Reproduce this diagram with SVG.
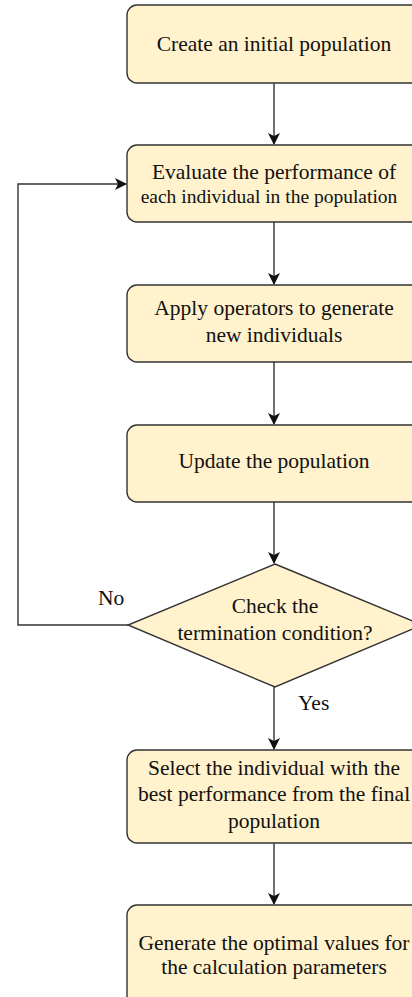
<svg xmlns="http://www.w3.org/2000/svg" width="412" height="997" viewBox="0 0 412 997">
<style>
.box{fill:#fff2cc;stroke:#333;stroke-width:1.4}
.t{font-family:"Liberation Serif","Times New Roman",serif;font-size:21.5px;fill:#111;text-anchor:middle}
.l{font-family:"Liberation Serif","Times New Roman",serif;font-size:21.5px;fill:#111}
.c{fill:none;stroke:#333;stroke-width:1.4}
</style>
<defs>
<marker id="ah" viewBox="0 0 12 12" refX="11" refY="6" markerWidth="12" markerHeight="12" markerUnits="userSpaceOnUse" orient="auto">
<path d="M0,0 L12,6 L0,12 L3,6 Z" fill="#111"/>
</marker>
</defs>
<rect width="412" height="997" fill="#fff"/>
<g id="connectors">
<path class="c" d="M274,83 V144" marker-end="url(#ah)"/>
<path class="c" d="M274,222 V284" marker-end="url(#ah)"/>
<path class="c" d="M274,362 V424" marker-end="url(#ah)"/>
<path class="c" d="M274,502 V563" marker-end="url(#ah)"/>
<path class="c" d="M128,625 H18 V184 H126" marker-end="url(#ah)"/>
<path class="c" d="M274,687 V749" marker-end="url(#ah)"/>
<path class="c" d="M274,843 V904" marker-end="url(#ah)"/>
<text class="l" x="98" y="605">No</text>
<text class="l" x="298" y="710">Yes</text>
</g>
<g id="n1">
<rect class="box" x="127" y="5" width="294" height="78" rx="10"/>
<text class="t" x="274" y="51">Create an initial population</text>
</g>
<g id="n2">
<rect class="box" x="127" y="145" width="294" height="77" rx="10"/>
<text class="t" x="274" y="179">Evaluate the performance of</text>
<text class="t" x="269" y="203" style="font-size:19.5px">each individual in the population</text>
</g>
<g id="n3">
<rect class="box" x="127" y="285" width="294" height="77" rx="10"/>
<text class="t" x="274" y="315">Apply operators to generate</text>
<text class="t" x="274" y="342">new individuals</text>
</g>
<g id="n4">
<rect class="box" x="127" y="425" width="294" height="77" rx="10"/>
<text class="t" x="274" y="468">Update the population</text>
</g>
<g id="n5">
<path class="box" d="M275,564 L422,625 L275,687 L128,625 Z"/>
<text class="t" x="275" y="613">Check the</text>
<text class="t" x="275" y="640">termination condition?</text>
</g>
<g id="n6">
<rect class="box" x="127" y="750" width="294" height="93" rx="10"/>
<text class="t" x="274" y="775">Select the individual with the</text>
<text class="t" x="274" y="801">best performance from the final</text>
<text class="t" x="274" y="828">population</text>
</g>
<g id="n7">
<rect class="box" x="127" y="905" width="294" height="100" rx="10"/>
<text class="t" x="274" y="950">Generate the optimal values for</text>
<text class="t" x="274" y="974">the calculation parameters</text>
</g>
</svg>
